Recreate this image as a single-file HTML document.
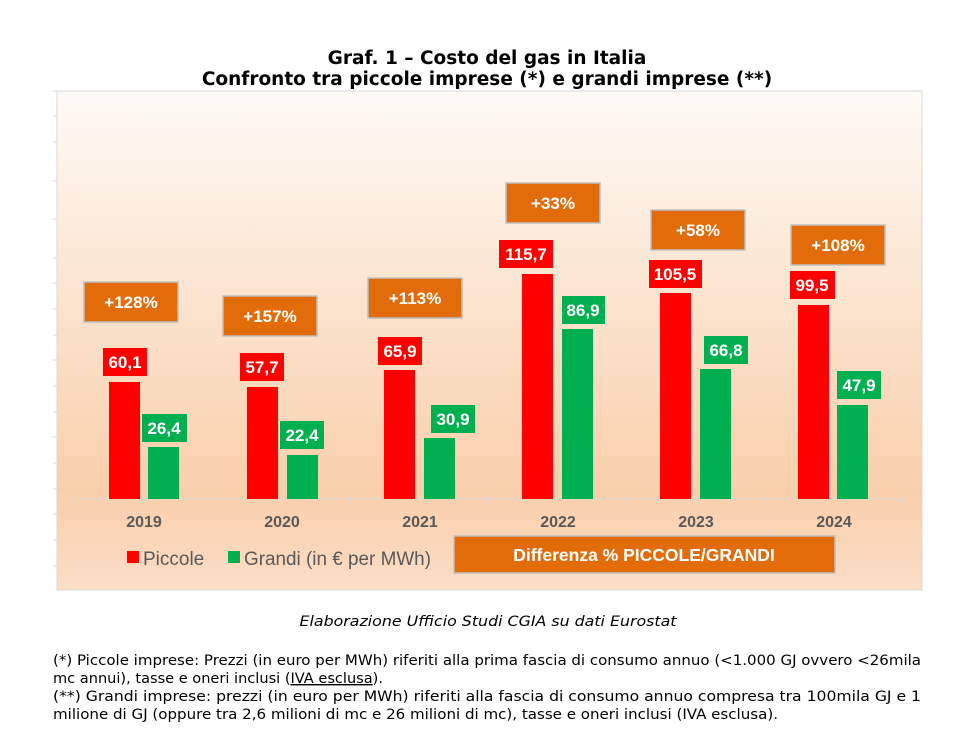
<!DOCTYPE html><html><head><meta charset="utf-8"><style>body{margin:0;background:#fff}svg{display:block}</style></head><body>
<svg width="970" height="749" viewBox="0 0 970 749" xmlns="http://www.w3.org/2000/svg" font-family="'DejaVu Sans','Liberation Sans',sans-serif">
<defs><linearGradient id="g" x1="0" y1="0" x2="0" y2="1"><stop offset="0" stop-color="#fefaf6"/><stop offset="0.8" stop-color="#f9cfab"/><stop offset="1" stop-color="#fbddc6"/></linearGradient></defs>
<text x="487" y="64" text-anchor="middle" font-weight="bold" font-size="18.5">Graf. 1 – Costo del gas in Italia</text>
<text x="487" y="85" text-anchor="middle" font-weight="bold" font-size="18.5">Confronto tra piccole imprese (*) e grandi imprese (**)</text>
<g stroke="#d9d9d9" stroke-width="1"><line x1="53" y1="91" x2="922" y2="91"/>
<line x1="53" y1="116" x2="57" y2="116"/><line x1="53" y1="142" x2="57" y2="142"/><line x1="53" y1="181" x2="57" y2="181"/><line x1="53" y1="219" x2="57" y2="219"/><line x1="53" y1="258" x2="57" y2="258"/><line x1="53" y1="283" x2="57" y2="283"/><line x1="53" y1="309" x2="57" y2="309"/><line x1="53" y1="335" x2="57" y2="335"/><line x1="53" y1="360" x2="57" y2="360"/><line x1="53" y1="386" x2="57" y2="386"/><line x1="53" y1="412" x2="57" y2="412"/><line x1="53" y1="437" x2="57" y2="437"/><line x1="53" y1="463" x2="57" y2="463"/><line x1="53" y1="489" x2="57" y2="489"/><line x1="53" y1="514" x2="57" y2="514"/><line x1="53" y1="540" x2="57" y2="540"/><line x1="53" y1="566" x2="57" y2="566"/></g>
<rect x="57" y="91" width="865" height="499" fill="url(#g)" stroke="#d9d9d9"/>
<line x1="75" y1="499" x2="903" y2="499" stroke="#d9d9d9"/>
<g stroke="#d9d9d9"><line x1="75" y1="499" x2="75" y2="504"/><line x1="213" y1="499" x2="213" y2="504"/><line x1="351" y1="499" x2="351" y2="504"/><line x1="489" y1="499" x2="489" y2="504"/><line x1="627" y1="499" x2="627" y2="504"/><line x1="765" y1="499" x2="765" y2="504"/><line x1="903" y1="499" x2="903" y2="504"/></g>
<g fill="#ff0000"><rect x="109" y="382" width="31" height="117"/><rect x="247" y="387" width="31" height="112"/><rect x="384" y="370" width="31" height="129"/><rect x="522" y="274" width="31" height="225"/><rect x="660" y="293" width="31" height="206"/><rect x="798" y="305" width="31" height="194"/></g>
<g fill="#00b050"><rect x="148" y="447" width="31" height="52"/><rect x="287" y="455" width="31" height="44"/><rect x="424" y="438" width="31" height="61"/><rect x="562" y="329" width="31" height="170"/><rect x="700" y="369" width="31" height="130"/><rect x="837" y="405" width="31" height="94"/></g>
<g fill="#e36c0a" stroke="#bfbfbf" stroke-width="1.5"><rect x="84" y="282" width="94" height="40"/><rect x="223" y="296" width="94" height="40"/><rect x="368" y="278" width="94" height="40"/><rect x="506" y="183" width="94" height="40"/><rect x="651" y="210" width="94" height="40"/><rect x="791" y="225" width="94" height="40"/><rect x="454" y="536" width="381" height="37"/></g>
<g fill="#fff" font-weight="bold" font-size="17" text-anchor="middle" font-family="'Liberation Sans',sans-serif">
<text x="131" y="308">+128%</text><text x="270" y="322">+157%</text><text x="415" y="304">+113%</text><text x="553" y="209">+33%</text><text x="698" y="236">+58%</text><text x="838" y="251">+108%</text>
<text x="644" y="561" font-size="17.5">Differenza % PICCOLE/GRANDI</text></g>
<g fill="#ff0000"><rect x="103" y="348" width="44" height="28"/><rect x="240" y="353" width="44" height="28"/><rect x="378" y="337" width="44" height="28"/><rect x="499" y="240" width="54" height="28"/><rect x="649" y="260" width="53" height="28"/><rect x="790" y="271" width="45" height="28"/></g>
<g fill="#00b050"><rect x="142" y="414" width="45" height="28"/><rect x="280" y="421" width="44" height="28"/><rect x="431" y="405" width="44" height="28"/><rect x="562" y="296" width="43" height="28"/><rect x="704" y="336" width="44" height="28"/><rect x="837" y="371" width="44" height="28"/></g>
<g fill="#fff" font-weight="bold" font-size="17" text-anchor="middle" font-family="'Liberation Sans',sans-serif">
<text x="125" y="368">60,1</text><text x="262" y="373">57,7</text><text x="400" y="357">65,9</text><text x="526" y="260">115,7</text><text x="675" y="280">105,5</text><text x="812" y="291">99,5</text>
<text x="164" y="434">26,4</text><text x="302" y="441">22,4</text><text x="453" y="425">30,9</text><text x="583" y="316">86,9</text><text x="726" y="356">66,8</text><text x="859" y="391">47,9</text></g>
<g fill="#595959" font-weight="bold" font-size="16" text-anchor="middle" font-family="'Liberation Sans',sans-serif">
<text x="144" y="527">2019</text><text x="282" y="527">2020</text><text x="420" y="527">2021</text><text x="558" y="527">2022</text><text x="696" y="527">2023</text><text x="834" y="527">2024</text></g>
<rect x="127" y="551" width="12" height="12" fill="#ff0000"/><rect x="228" y="551" width="12" height="12" fill="#00b050"/>
<g fill="#595959" font-size="19" font-family="'Liberation Sans',sans-serif"><text x="143" y="565">Piccole</text><text x="244" y="565" textLength="187" lengthAdjust="spacingAndGlyphs">Grandi (in € per MWh)</text></g>
<text x="488" y="626" text-anchor="middle" font-style="italic" font-size="14" textLength="377" lengthAdjust="spacingAndGlyphs">Elaborazione Ufficio Studi CGIA su dati Eurostat</text>
<g font-size="14" fill="#000">
<text x="53" y="665" textLength="868" lengthAdjust="spacingAndGlyphs">(*) Piccole imprese: Prezzi (in euro per MWh) riferiti alla prima fascia di consumo annuo (&lt;1.000 GJ ovvero &lt;26mila</text>
<text x="53" y="683" textLength="330" lengthAdjust="spacingAndGlyphs">mc annui), tasse e oneri inclusi (<tspan text-decoration="underline">IVA esclusa</tspan>).</text>
<text x="53" y="701" textLength="868" lengthAdjust="spacingAndGlyphs">(**) Grandi imprese: prezzi (in euro per MWh) riferiti alla fascia di consumo annuo compresa tra 100mila GJ e 1</text>
<text x="53" y="719" textLength="725" lengthAdjust="spacingAndGlyphs">milione di GJ (oppure tra 2,6 milioni di mc e 26 milioni di mc), tasse e oneri inclusi (IVA esclusa).</text></g>
</svg></body></html>
